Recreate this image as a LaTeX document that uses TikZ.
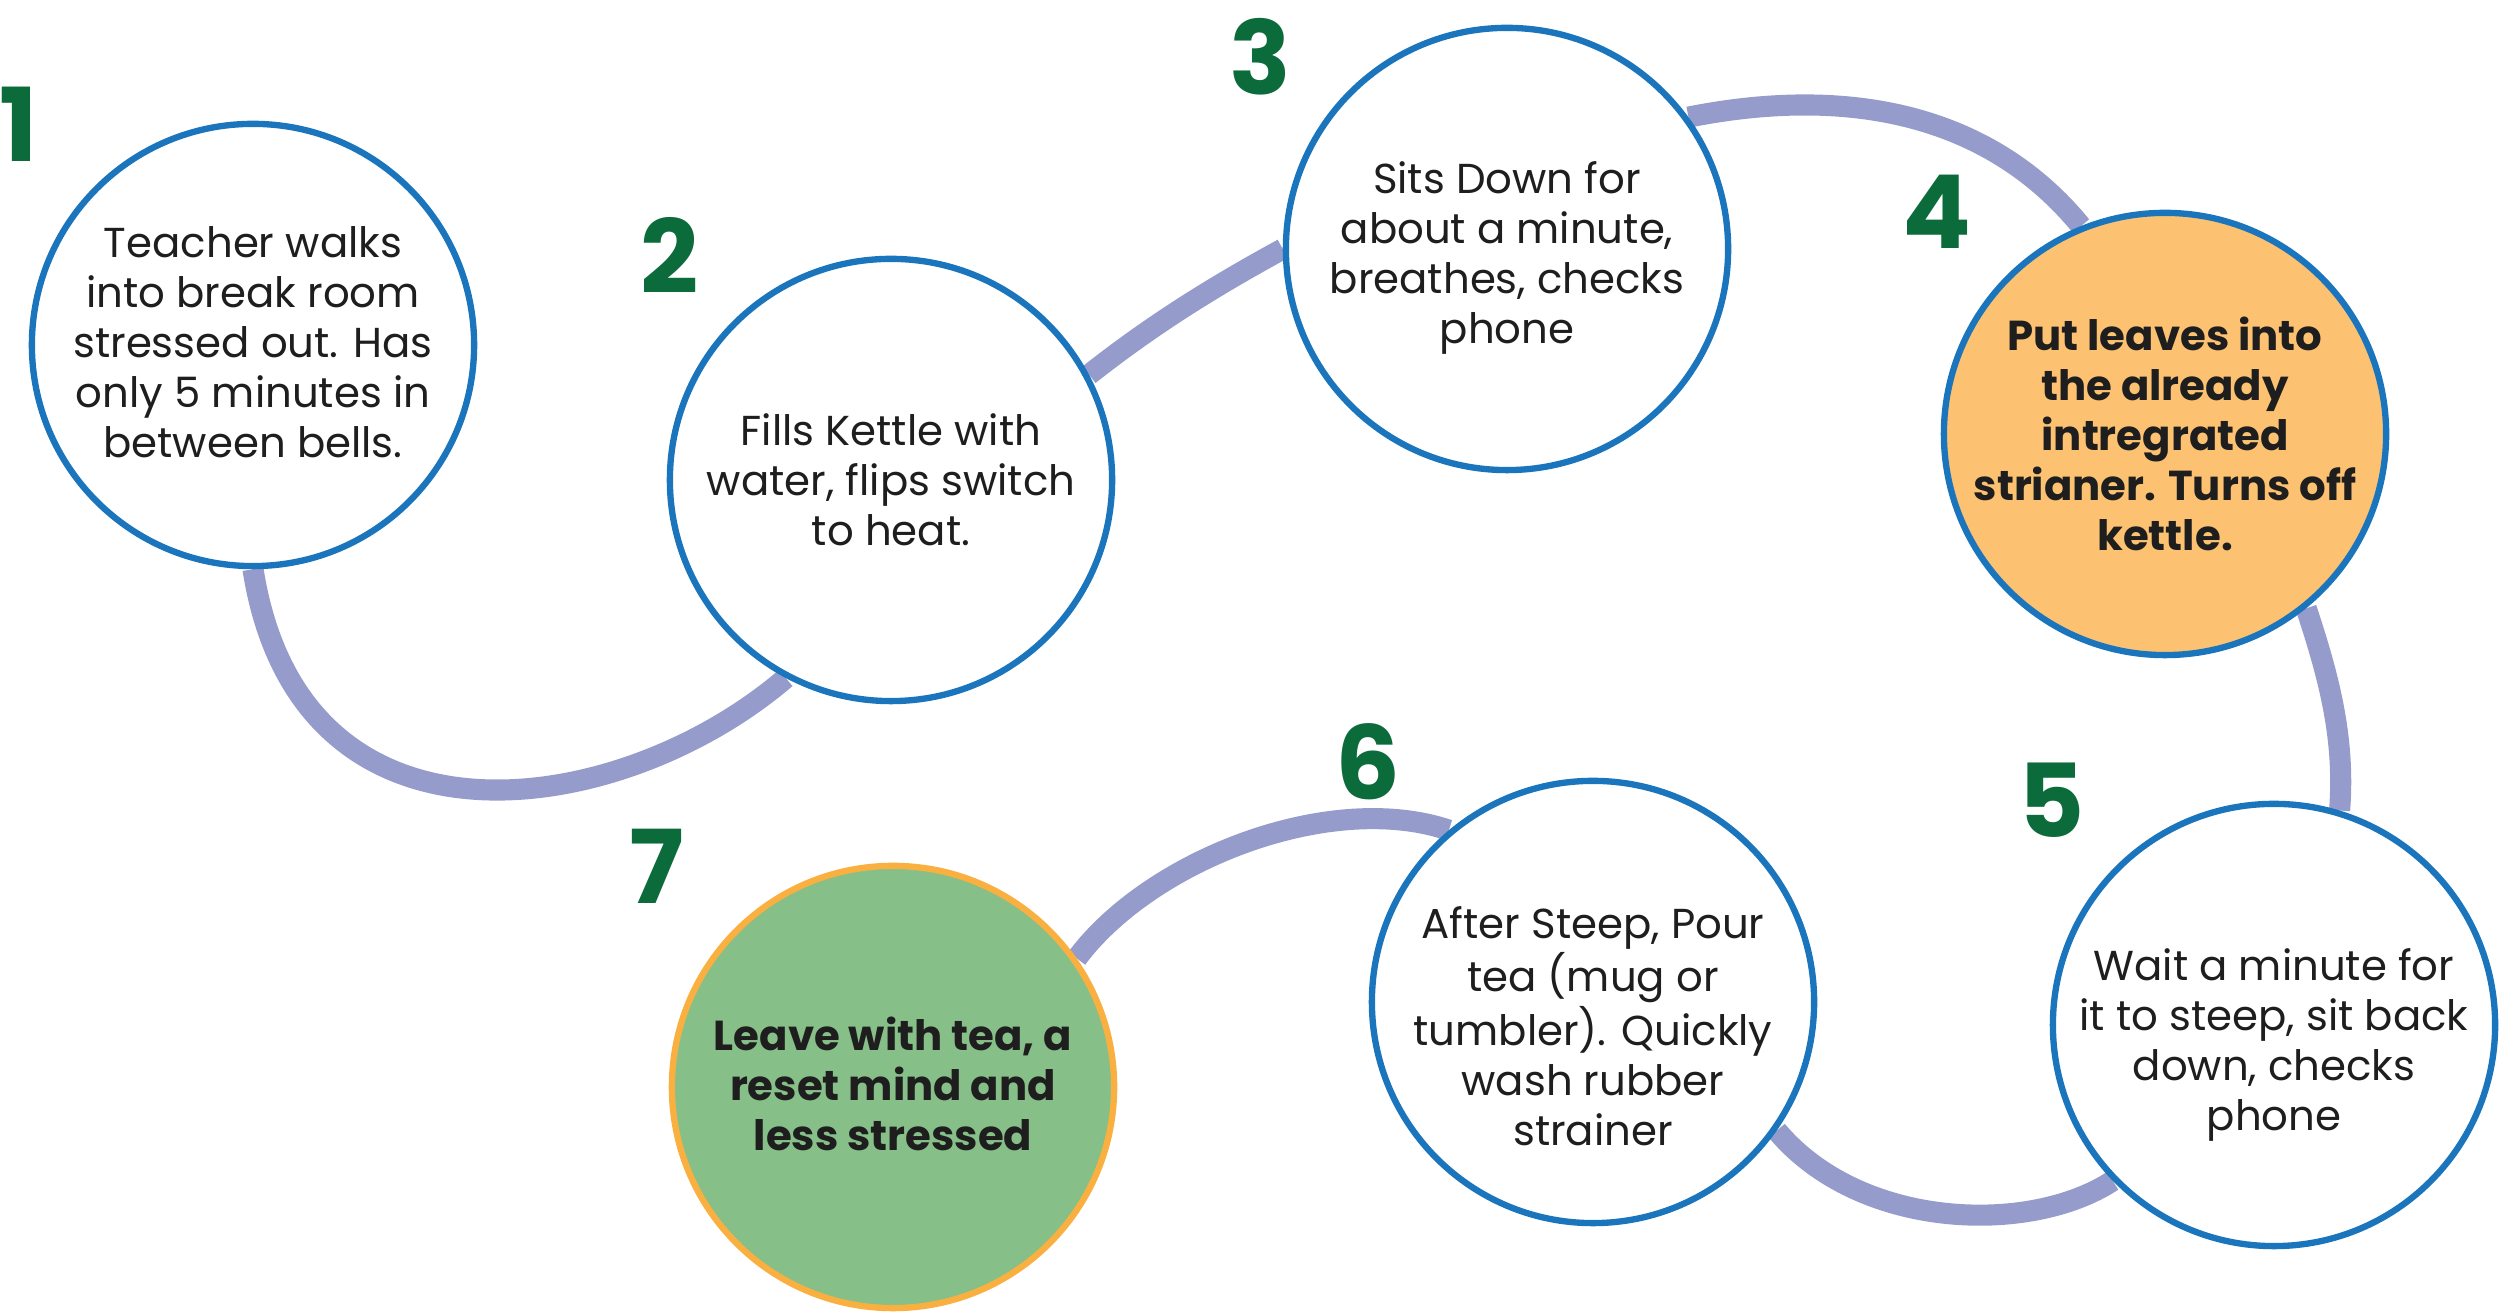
\documentclass[tikz,border=0pt]{standalone}
\usepackage{fontspec}
\setmainfont{Poppins}
\usetikzlibrary{backgrounds}
\definecolor{stepblue}{HTML}{1B75BC}
\definecolor{stepgreen}{HTML}{0B6B3A}
\definecolor{steptextc}{HTML}{1E1E1E}
\definecolor{linkc}{HTML}{959CCB}
\definecolor{leaforange}{HTML}{FDC271}
\definecolor{endgreen}{HTML}{86BF88}
\definecolor{endorange}{HTML}{F9B040}
\begin{document}
\begin{tikzpicture}[line cap=round,line join=round,x=0.01cm,y=0.01cm,
  stepcircle/.style={circle,draw=stepblue,line width=1.8pt,fill=white,minimum size=4.42cm,inner sep=0pt},
  steptext/.style={align=center,text=steptextc,font=\fontsize{11.9}{14.2}\selectfont},
  stepbold/.style={steptext,font=\fontsize{11.9}{14.2}\selectfont\bfseries},
  stepnum/.style={text=stepgreen,font=\fontsize{29}{30}\selectfont\bfseries,inner sep=0pt},
  link/.style={line width=6pt,draw=linkc,line cap=butt}]
\useasboundingbox (0,0) rectangle (2500,1313);
\node[stepcircle] (c1) at (253,968) {};
\node[stepcircle] (c2) at (891,833) {};
\node[stepcircle] (c3) at (1507,1064) {};
\node[stepcircle,fill=leaforange] (c4) at (2165,879) {};
\node[stepcircle] (c5) at (2274,288) {};
\node[stepcircle] (c6) at (1593,311) {};
\node[stepcircle,draw=endorange,fill=endgreen] (c7) at (893,226) {};
\node[steptext,yshift=0.03cm] (t1) at (c1) {Teacher walks\\into break room\\stressed out. Has\\only 5 minutes in\\between bells.};
\node[steptext] (t2) at (c2) {Fills Kettle with\\water, flips switch\\to heat.};
\node[steptext,yshift=-0.09cm] (t3) at (c3) {Sits Down for\\about a minute,\\breathes, checks\\phone};
\node[stepbold] (t4) at (c4) {Put leaves into\\the already\\intregrated\\strianer. Turns off\\kettle.};
\node[steptext,yshift=-0.2cm] (t5) at (c5) {Wait a minute for\\it to steep, sit back\\down, checks\\phone};
\node[steptext,yshift=-0.24cm] (t6) at (c6) {After Steep, Pour\\tea (mug or\\tumbler). Quickly\\wash rubber\\strainer};
\node[stepbold,yshift=0.03cm] (t7) at (c7) {Leave with tea, a\\reset mind and\\less stressed};
\node[stepnum] (n1) at (19,1189) {1};
\node[stepnum] (n2) at (670,1058) {2};
\node[stepnum] (n3) at (1260,1256) {3};
\node[stepnum] (n4) at (1937,1101) {4};
\node[stepnum] (n5) at (2052,513) {5};
\node[stepnum] (n6) at (1368,551) {6};
\node[stepnum] (n7) at (657,447) {7};
\begin{pgfonlayer}{background}
\draw[link] (c1.270) .. controls (300,444) and (620,493) .. (c2.242);
\draw[link] (c2.28) .. controls (1152,988) and (1213,1026) .. (c3.180);
\draw[link] (c3.36) .. controls (1850,1228) and (1990,1198) .. (c4.112);
\draw[link] (c4.-51) .. controls (2330,633) and (2345,573) .. (c5.73);
\draw[link] (c5.224) .. controls (2030,78) and (1860,83) .. (c6.-35);
\draw[link] (c7.35) .. controls (1150,453) and (1330,523) .. (c6.130);
\end{pgfonlayer}
\end{tikzpicture}
\end{document}
